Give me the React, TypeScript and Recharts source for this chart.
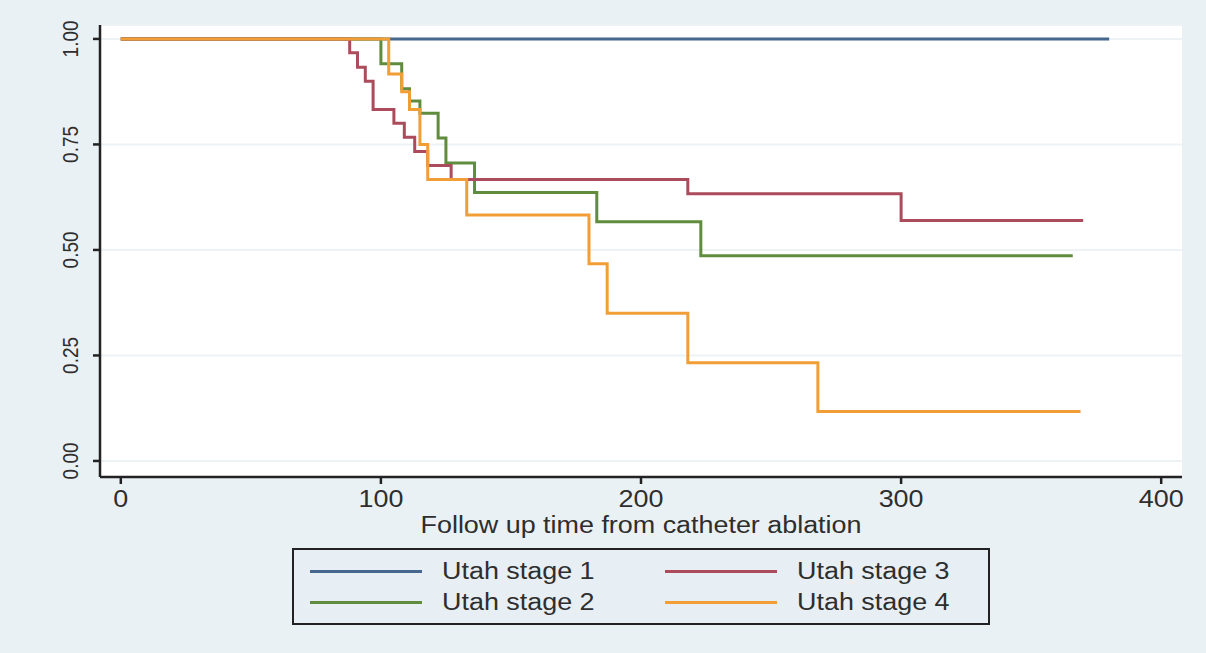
import React from 'react';
import { LineChart, Line, XAxis, YAxis, CartesianGrid, Label } from 'recharts';

const seriesNames = ['Utah stage 1', 'Utah stage 2', 'Utah stage 3', 'Utah stage 4'];
const seriesColors = ['#46678e', '#608c3e', '#ab4b5b', '#f29e36'];

const stage1Time = [0, 380];
const stage1Surv = [1, 1];
const stage2Time = [0, 100, 108, 111, 115, 122, 125, 136, 183, 223, 366];
const stage2Surv = [1, 0.941, 0.882, 0.853, 0.824, 0.765, 0.706, 0.636, 0.567, 0.486, 0.486];
const stage3Time = [0, 88, 91, 94, 97, 105, 109, 113, 118, 127, 218, 300, 370];
const stage3Surv = [1, 0.967, 0.933, 0.9, 0.833, 0.8, 0.767, 0.733, 0.7, 0.667, 0.633, 0.57, 0.57];
const stage4Time = [0, 103, 108, 111, 115, 118, 133, 180, 187, 218, 268, 369];
const stage4Surv = [1, 0.917, 0.875, 0.833, 0.75, 0.667, 0.583, 0.467, 0.35, 0.233, 0.117, 0.117];

const xTicks = [0, 100, 200, 300, 400];
const yTicks = [0, 0.25, 0.5, 0.75, 1];
const xTitle = 'Follow up time from catheter ablation';

const toRows = (t: number[], s: number[]) => t.map((v, i) => ({ t: v, s: s[i] }));
const seriesData = [
  toRows(stage1Time, stage1Surv),
  toRows(stage2Time, stage2Surv),
  toRows(stage3Time, stage3Surv),
  toRows(stage4Time, stage4Surv),
];

const FONT = '"Liberation Sans", Arial, sans-serif';
const BG = '#eaf1f4';
const TEXT = '#2e2e2e';
const STRETCH = 1.17;

const YTick = (props: any) => {
  const { x, y, payload } = props;
  const cx = x - 21;
  return (
    <text transform={`translate(${cx}, ${y}) scale(${STRETCH}, 1) rotate(-90)`} x={0} y={0}
      textAnchor="middle" dominantBaseline="central" fontFamily={FONT} fontSize={19} fill={TEXT}>
      {Number(payload.value).toFixed(2)}
    </text>
  );
};

const XTick = (props: any) => {
  const { x, y, payload } = props;
  return (
    <text transform={`translate(${x}, ${y + 21}) scale(${STRETCH}, 1)`} x={0} y={0}
      textAnchor="middle" fontFamily={FONT} fontSize={23} fill={TEXT}>
      {payload.value}
    </text>
  );
};

const TitleLabel = (props: any) => {
  const vb = props.viewBox || {};
  const cx = vb.x + vb.width / 2;
  return (
    <text transform={`translate(${cx}, ${vb.y + 56}) scale(${STRETCH}, 1)`} x={0} y={0}
      textAnchor="middle" fontFamily={FONT} fontSize={23} fill={TEXT}>
      {xTitle}
    </text>
  );
};

const legendOrder = [0, 1, 2, 3];
const legendCols = [16, 371];
const legendRows = [8, 39];

export default function App() {
  return (
    <div style={{ position: 'absolute', left: 0, top: 0, width: 1206, height: 653, background: BG }}>
      <LineChart width={1206} height={653} data={seriesData[0]}
        margin={{ top: 25, right: 24, bottom: 116, left: 0 }}>
        <CartesianGrid horizontal vertical={false} stroke="#edf2f4" strokeWidth={2} fill="#ffffff" />
        <XAxis dataKey="t" type="number" domain={[-8, 408]} ticks={xTicks} allowDataOverflow
          height={60} tick={<XTick />} tickLine={{ stroke: '#222', strokeWidth: 2.5 }} tickSize={7}
          axisLine={{ stroke: '#222', strokeWidth: 2.5 }} interval={0}>
          <Label content={<TitleLabel />} />
        </XAxis>
        <XAxis xAxisId="top" orientation="top" dataKey="t" type="number" domain={[-8, 408]}
          height={0} tick={false} tickLine={false} axisLine={{ stroke: '#222', strokeWidth: 2.5 }} />
        <YAxis type="number" domain={[-0.038, 1.033]} ticks={yTicks} allowDataOverflow width={100}
          tick={<YTick />} tickLine={{ stroke: '#222', strokeWidth: 2.5 }} tickSize={7} interval={0}
          axisLine={{ stroke: '#222', strokeWidth: 2.5 }} />
        <YAxis yAxisId="right" orientation="right" type="number" domain={[-0.038, 1.033]}
          width={0} tick={false} tickLine={false} axisLine={{ stroke: '#222', strokeWidth: 2.5 }} />
        {seriesData.map((d, i) => (
          <Line key={seriesNames[i]} data={d} dataKey="s" type="stepAfter" stroke={seriesColors[i]}
            strokeWidth={3} dot={false} activeDot={false} isAnimationActive={false} />
        ))}
      </LineChart>
      <div style={{ position: 'absolute', left: 292, top: 548, width: 698, height: 77,
        border: '2.5px solid #222', background: '#e7eff4', fontFamily: FONT, fontSize: 23, color: TEXT,
        boxSizing: 'border-box' }}>
        {legendOrder.map((idx, k) => (
          <div key={idx} style={{ position: 'absolute', left: legendCols[Math.floor(k / 2)],
            top: legendRows[k % 2], height: 26, display: 'flex', alignItems: 'center', whiteSpace: 'nowrap' }}>
            <span style={{ display: 'inline-block', width: 112, height: 3, background: seriesColors[idx], marginRight: 20 }} />
            <span style={{ display: 'inline-block', transform: `scaleX(${STRETCH})`, transformOrigin: 'left center' }}>
              {seriesNames[idx]}
            </span>
          </div>
        ))}
      </div>
    </div>
  );
}
